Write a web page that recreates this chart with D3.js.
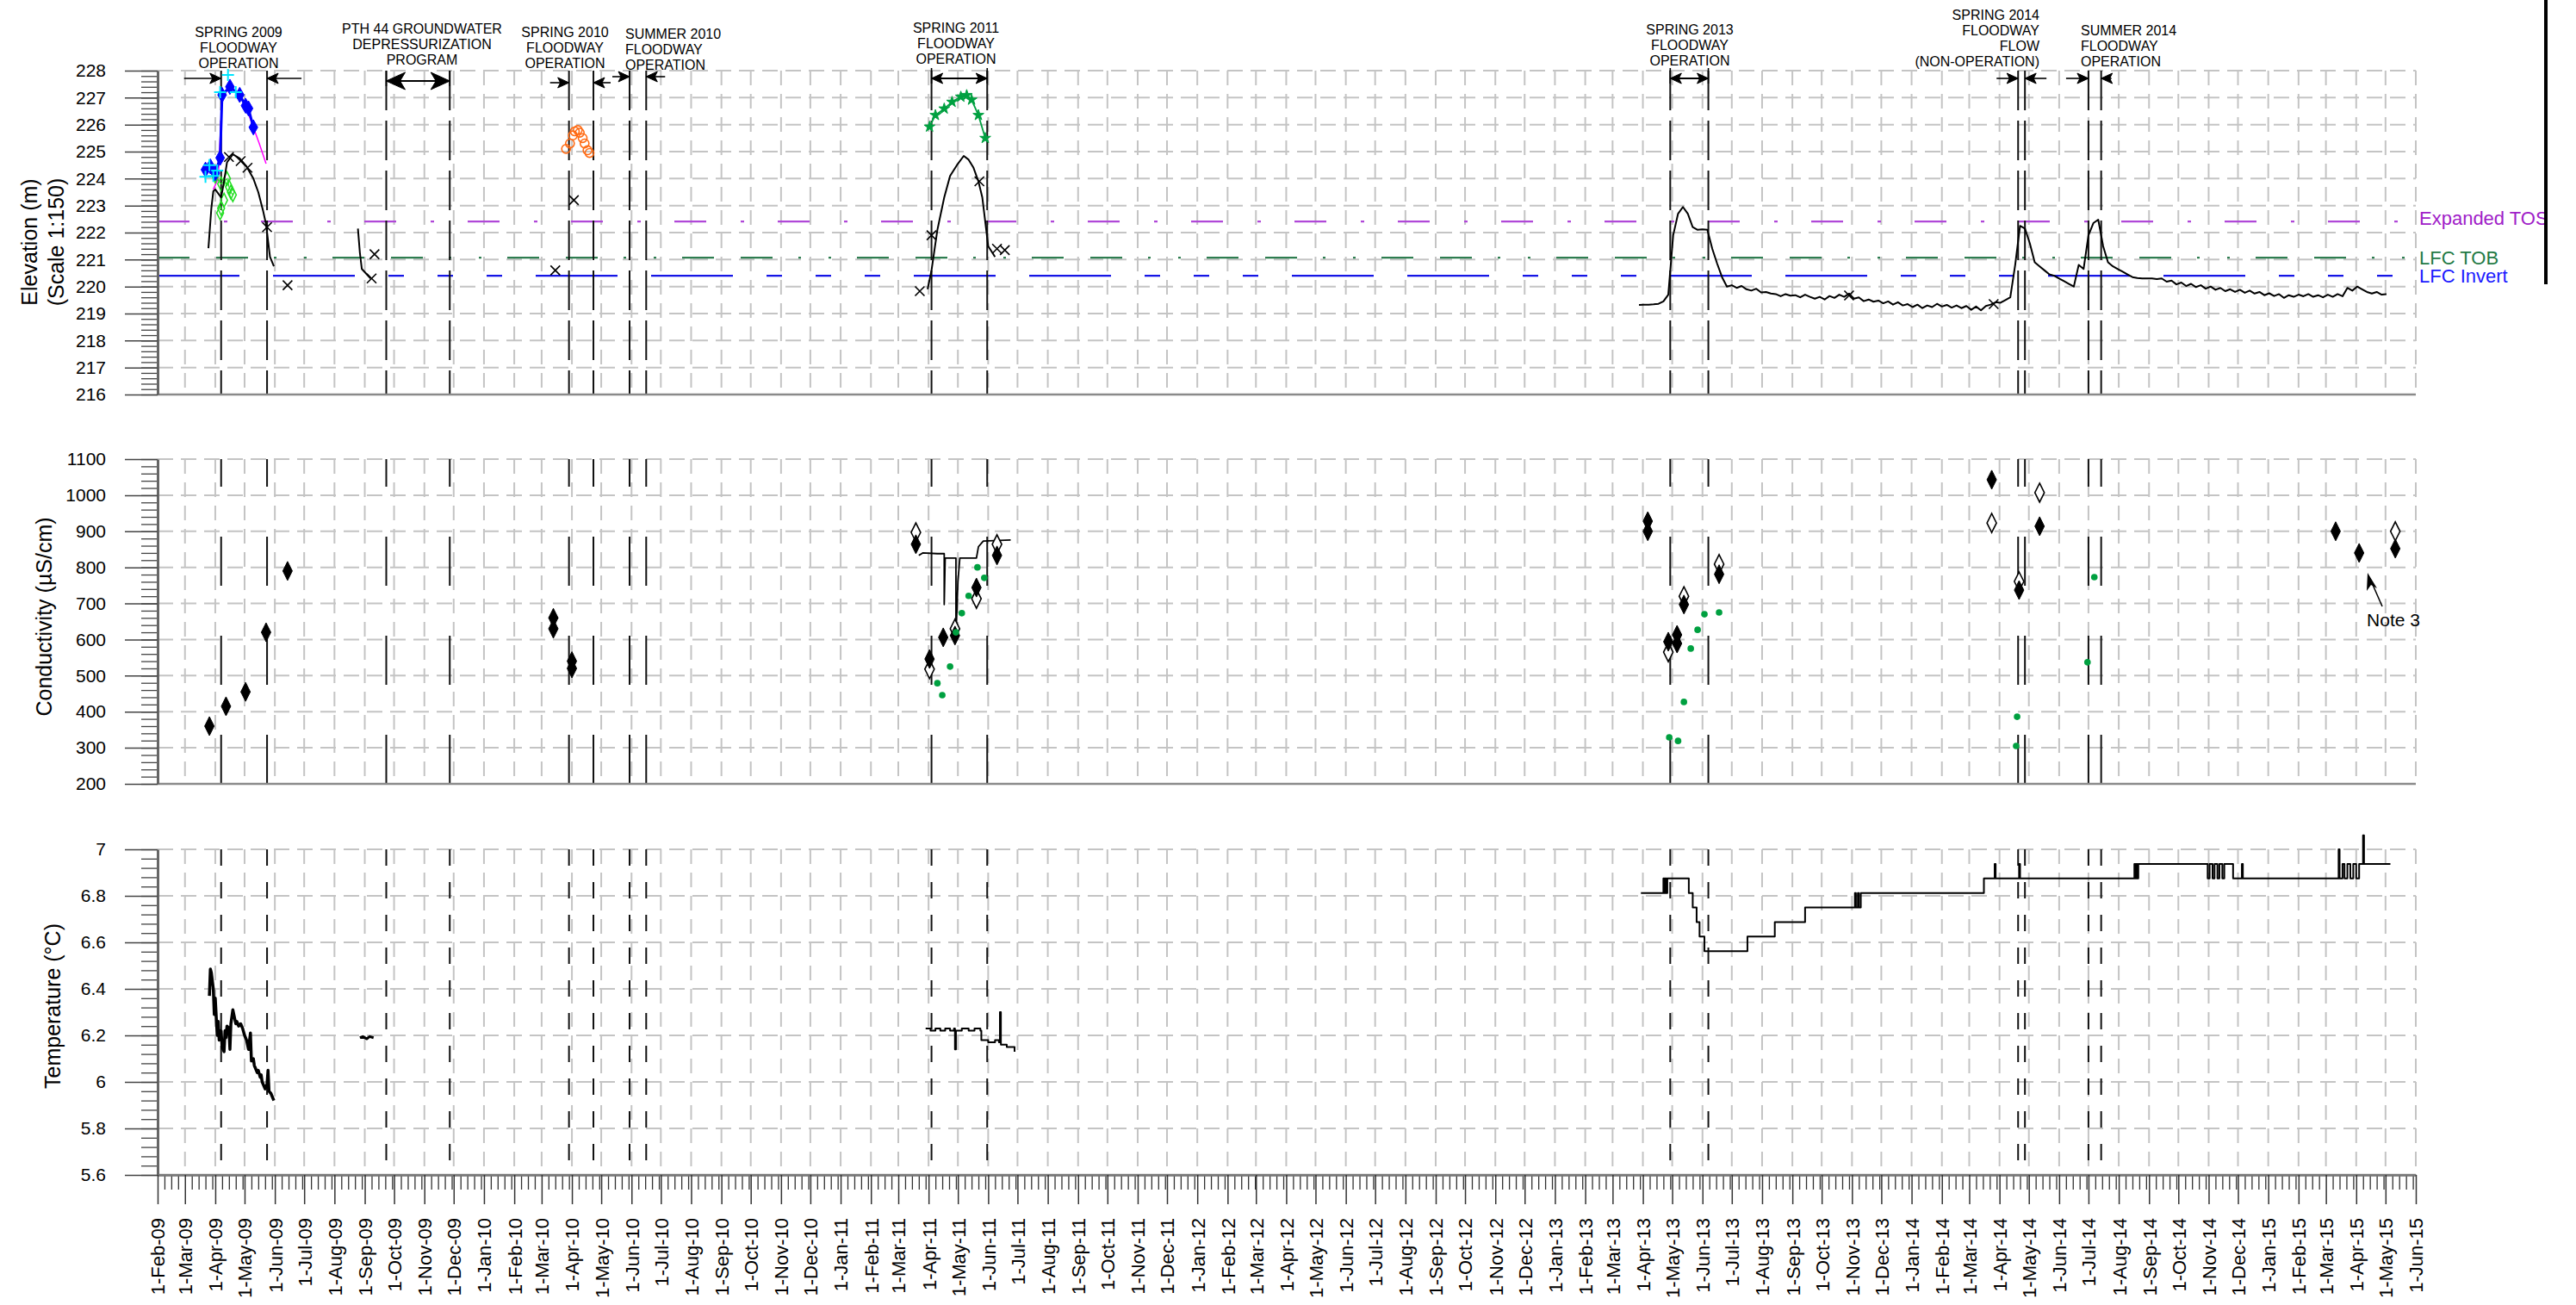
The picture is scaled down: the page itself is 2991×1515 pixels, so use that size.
<!DOCTYPE html>
<html>
<head>
<meta charset="utf-8">
<script src="https://cdn.jsdelivr.net/npm/d3@7"></script>
<style>
  body { margin: 0; background: #fff; }
  svg { display: block; font-family: Arial, "Liberation Sans", sans-serif; }
</style>
</head>
<body>
<div id="chart"></div>
<script>
// ---------- tick labels ----------
var elevTicks = [216, 217, 218, 219, 220, 221, 222, 223, 224, 225, 226, 227, 228];
var condTicks = [200, 300, 400, 500, 600, 700, 800, 900, 1000, 1100];
var tempTicks = [5.6, 5.8, 6, 6.2, 6.4, 6.6, 6.8, 7];

// ---------- reference levels (m) ----------
var refNames = ["Expanded TOS", "LFC TOB", "LFC Invert"];
var refValues = [222.41, 221.07, 220.40];

// ---------- floodway event lines ----------
var eventDates = ["2009-04-07", "2009-05-24", "2009-09-23", "2009-11-27", "2010-03-29", "2010-04-23",
  "2010-05-30", "2010-06-16", "2011-04-04", "2011-05-31", "2013-04-29", "2013-06-07",
  "2014-04-20", "2014-04-27", "2014-07-01", "2014-07-14"];

// ---------- elevation series ----------
var elev09 = [["2009-03-25", 221.42], ["2009-03-28", 222.9], ["2009-03-30", 223.53], ["2009-04-01", 223.6],
  ["2009-04-07", 223.3], ["2009-04-10", 223.9], ["2009-04-13", 224.6], ["2009-04-19", 224.9],
  ["2009-04-26", 224.75], ["2009-05-03", 224.45], ["2009-05-10", 224.0], ["2009-05-15", 223.5],
  ["2009-05-20", 222.8], ["2009-05-23", 222.3], ["2009-05-27", 221.1], ["2009-05-31", 220.75]];
var elevPth = [["2009-08-25", 222.15], ["2009-08-27", 221.25], ["2009-08-29", 220.65], ["2009-09-07", 220.3]];
var elev11 = [["2011-03-31", 219.9], ["2011-04-04", 220.6], ["2011-04-10", 222.1], ["2011-04-17", 223.3],
  ["2011-04-23", 224.1], ["2011-04-30", 224.5], ["2011-05-07", 224.84], ["2011-05-12", 224.7],
  ["2011-05-17", 224.4], ["2011-05-22", 223.9], ["2011-05-26", 223.3], ["2011-06-01", 221.5], ["2011-06-08", 221.1]];
var elev13Start = "2013-03-28";
var elev13Step = 5; // days between logger readings shown
var elev13 = [219.32, 219.33, 219.33, 219.34, 219.36, 219.45, 219.7, 221.9, 222.7, 222.95,
  222.7, 222.2, 222.1, 222.12, 222.1, 221.4, 220.85, 220.35, 220.0, 220.05,
  219.95, 220.02, 219.9, 219.85, 219.92, 219.78, 219.8, 219.74, 219.72, 219.64,
  219.72, 219.66, 219.68, 219.6, 219.7, 219.62, 219.55, 219.62, 219.52, 219.65,
  219.58, 219.7, 219.62, 219.74, 219.55, 219.6, 219.46, 219.52, 219.44, 219.48,
  219.38, 219.45, 219.33, 219.42, 219.3, 219.35, 219.24, 219.33, 219.2, 219.3,
  219.24, 219.36, 219.26, 219.32, 219.22, 219.3, 219.2, 219.28, 219.14, 219.26,
  219.12, 219.28, 219.33, 219.42, 219.4, 219.5, 219.6, 220.8, 222.25, 222.15,
  221.6, 220.9, 220.75, 220.6, 220.45, 220.4, 220.3, 220.2, 220.1, 220.0,
  220.8, 220.65, 221.9, 222.35, 222.48, 221.5, 220.9, 220.75, 220.65, 220.55,
  220.45, 220.35, 220.32, 220.3, 220.3, 220.3, 220.28, 220.3, 220.18, 220.22,
  220.08, 220.15, 220.02, 220.1, 219.98, 220.05, 219.92, 220.0, 219.88, 219.95,
  219.83, 219.9, 219.8, 219.88, 219.77, 219.85, 219.74, 219.8, 219.68, 219.75,
  219.65, 219.72, 219.58, 219.68, 219.62, 219.7, 219.64, 219.72, 219.62, 219.68,
  219.6, 219.7, 219.62, 219.72, 219.64, 219.95, 219.85, 220.0, 219.9, 219.8,
  219.74, 219.8, 219.7, 219.72];
var manualX = [["2009-04-15", 224.8], ["2009-04-27", 224.65], ["2009-05-04", 224.4], ["2009-05-24", 222.2],
  ["2009-06-14", 220.05], ["2009-09-11", 221.2], ["2009-09-08", 220.3], ["2010-03-15", 220.6],
  ["2010-04-03", 223.2], ["2011-03-23", 219.83], ["2011-04-04", 221.9], ["2011-05-23", 223.9],
  ["2011-06-10", 221.4], ["2011-06-18", 221.35], ["2013-10-29", 219.67], ["2014-03-26", 219.35]];
var pz09Blue = [["2009-03-22", 224.33], ["2009-03-27", 224.45], ["2009-04-01", 224.2], ["2009-04-06", 224.77],
  ["2009-04-08", 227.1], ["2009-04-16", 227.4], ["2009-04-26", 227.1], ["2009-05-02", 226.7],
  ["2009-05-05", 226.6], ["2009-05-10", 225.9]];
var pz09Magenta = [["2009-03-30", 223.6], ["2009-04-04", 224.0], ["2009-04-08", 227.0], ["2009-04-16", 227.4],
  ["2009-04-26", 227.1], ["2009-05-02", 226.7], ["2009-05-10", 225.9], ["2009-05-16", 225.3], ["2009-05-23", 224.55]];
var pz09Cyan = [["2009-03-22", 224.07], ["2009-03-26", 224.5], ["2009-03-30", 224.1], ["2009-04-06", 227.2],
  ["2009-04-14", 227.84], ["2009-04-22", 227.2], ["2009-04-03", 224.3]];
var pz09Green = [["2009-04-01", 224.1], ["2009-04-07", 223.8], ["2009-04-13", 224.0], ["2009-04-15", 223.7],
  ["2009-04-17", 223.5], ["2009-04-19", 223.4], ["2009-04-10", 223.2], ["2009-04-07", 222.9], ["2009-04-06", 222.73]];
var pz10Orange = [["2010-03-26", 225.1], ["2010-03-30", 225.3], ["2010-04-02", 225.6], ["2010-04-04", 225.75],
  ["2010-04-07", 225.8], ["2010-04-09", 225.7], ["2010-04-12", 225.5], ["2010-04-14", 225.3],
  ["2010-04-17", 225.05], ["2010-04-19", 224.95]];
var pz11Green = [["2011-04-02", 225.92], ["2011-04-08", 226.35], ["2011-04-17", 226.59], ["2011-04-25", 226.84],
  ["2011-05-04", 227.03], ["2011-05-10", 227.09], ["2011-05-15", 226.92], ["2011-05-22", 226.35], ["2011-05-29", 225.5]];

// ---------- conductivity ----------
var condFilled = [["2009-03-26", 360], ["2009-04-12", 415], ["2009-05-02", 455], ["2009-05-23", 620], ["2009-06-14", 790],
  ["2010-03-13", 660], ["2010-03-13", 630], ["2010-04-01", 540], ["2010-04-01", 520],
  ["2011-03-19", 864], ["2011-04-02", 546], ["2011-04-16", 606], ["2011-04-28", 611], ["2011-05-20", 744], ["2011-06-10", 833],
  ["2013-04-06", 928], ["2013-04-06", 900], ["2013-04-27", 594], ["2013-05-06", 613], ["2013-05-06", 589],
  ["2013-05-13", 697], ["2013-06-18", 781],
  ["2014-03-24", 1043], ["2014-05-12", 914], ["2014-04-21", 737],
  ["2015-03-11", 900], ["2015-04-04", 840], ["2015-05-11", 852]];
var condHollow = [["2011-03-19", 897], ["2011-04-02", 518], ["2011-04-28", 630], ["2011-05-20", 713], ["2011-06-10", 864],
  ["2013-04-27", 565], ["2013-05-13", 720], ["2013-06-18", 809],
  ["2014-03-24", 923], ["2014-05-12", 1007], ["2014-04-21", 761], ["2015-05-11", 900]];
var condGreen = [["2011-05-21", 800], ["2011-05-28", 771], ["2011-05-12", 721], ["2011-05-05", 673], ["2011-04-29", 620],
  ["2011-04-23", 525], ["2011-04-10", 479], ["2011-04-15", 446],
  ["2013-04-28", 329], ["2013-05-07", 319], ["2013-05-13", 427], ["2013-05-20", 575], ["2013-05-27", 627],
  ["2013-06-03", 670], ["2013-06-18", 675],
  ["2014-07-07", 773], ["2014-06-30", 537], ["2014-04-19", 386], ["2014-04-18", 305]];
var condLogger = [["2011-03-22", 833], ["2011-03-26", 840], ["2011-04-10", 838], ["2011-04-17", 838], ["2011-04-17", 697],
  ["2011-04-18", 826], ["2011-04-29", 826], ["2011-04-29", 606], ["2011-05-01", 760], ["2011-05-03", 826],
  ["2011-05-20", 826], ["2011-05-22", 857], ["2011-05-27", 873], ["2011-06-24", 876]];

// ---------- temperature ----------
var temp09 = [["2009-03-26", 6.37], ["2009-03-27", 6.485], ["2009-03-28", 6.47], ["2009-03-30", 6.40], ["2009-03-31", 6.29],
  ["2009-04-01", 6.36], ["2009-04-02", 6.28], ["2009-04-03", 6.20], ["2009-04-04", 6.26], ["2009-04-05", 6.18], ["2009-04-07", 6.22],
  ["2009-04-08", 6.15], ["2009-04-10", 6.13], ["2009-04-11", 6.22], ["2009-04-12", 6.19], ["2009-04-13", 6.24], ["2009-04-15", 6.23],
  ["2009-04-16", 6.14], ["2009-04-17", 6.25], ["2009-04-19", 6.31], ["2009-04-21", 6.27], ["2009-04-22", 6.25], ["2009-04-23", 6.26],
  ["2009-04-25", 6.24], ["2009-04-27", 6.25], ["2009-04-29", 6.23], ["2009-05-01", 6.20], ["2009-05-03", 6.18], ["2009-05-05", 6.14],
  ["2009-05-07", 6.21], ["2009-05-08", 6.09], ["2009-05-10", 6.10], ["2009-05-11", 6.07], ["2009-05-12", 6.06], ["2009-05-14", 6.04],
  ["2009-05-15", 6.05], ["2009-05-17", 6.02], ["2009-05-18", 6.03], ["2009-05-19", 6.00], ["2009-05-21", 5.98], ["2009-05-22", 5.97],
  ["2009-05-24", 5.99], ["2009-05-25", 6.05], ["2009-05-26", 5.96], ["2009-05-28", 5.95], ["2009-05-29", 5.94], ["2009-05-31", 5.92]];
var tempPth = [["2009-08-27", 6.19], ["2009-08-30", 6.195], ["2009-09-03", 6.185], ["2009-09-06", 6.195], ["2009-09-10", 6.19]];
var temp11 = [["2011-03-29", 6.23], ["2011-04-03", 6.22], ["2011-04-08", 6.23], ["2011-04-13", 6.22], ["2011-04-18", 6.23],
  ["2011-04-23", 6.22], ["2011-04-27", 6.23], ["2011-04-28", 6.14], ["2011-04-29", 6.22], ["2011-05-05", 6.23],
  ["2011-05-12", 6.22], ["2011-05-18", 6.23], ["2011-05-24", 6.22], ["2011-05-25", 6.18], ["2011-06-01", 6.17],
  ["2011-06-08", 6.18], ["2011-06-12", 6.17], ["2011-06-13", 6.30], ["2011-06-14", 6.16], ["2011-06-20", 6.15],
  ["2011-06-28", 6.13]];
var temp13 = [["2013-03-30", 6.8125],
  ["2013-04-22", 6.875], ["2013-04-23", 6.8125], ["2013-04-24", 6.875], ["2013-04-25", 6.8125], ["2013-04-26", 6.875],
  ["2013-05-18", 6.8125], ["2013-05-22", 6.75], ["2013-05-26", 6.6875], ["2013-05-29", 6.625], ["2013-06-03", 6.5625],
  ["2013-07-17", 6.625], ["2013-08-14", 6.6875], ["2013-09-14", 6.75],
  ["2013-11-04", 6.8125], ["2013-11-05", 6.75], ["2013-11-07", 6.8125], ["2013-11-08", 6.75], ["2013-11-10", 6.8125],
  ["2014-03-16", 6.875], ["2014-03-27", 6.9375], ["2014-03-28", 6.875], ["2014-04-21", 6.9375], ["2014-04-22", 6.875],
  ["2014-08-17", 6.9375], ["2014-08-18", 6.875], ["2014-08-19", 6.9375], ["2014-08-20", 6.875], ["2014-08-21", 6.9375],
  ["2014-10-31", 6.875], ["2014-11-02", 6.9375], ["2014-11-05", 6.875], ["2014-11-07", 6.9375], ["2014-11-10", 6.875],
  ["2014-11-12", 6.9375], ["2014-11-15", 6.875], ["2014-11-17", 6.9375], ["2014-11-26", 6.875],
  ["2014-12-05", 6.9375], ["2014-12-06", 6.875],
  ["2015-03-14", 7.0], ["2015-03-15", 6.875], ["2015-03-18", 6.9375], ["2015-03-20", 6.875], ["2015-03-23", 6.9375],
  ["2015-03-26", 6.875], ["2015-03-29", 6.9375], ["2015-04-01", 6.875], ["2015-04-04", 6.9375],
  ["2015-04-08", 7.06], ["2015-04-09", 6.9375], ["2015-05-06", 6.9375]];

// ---------- annotations ----------
var annoLines = [
  ["SPRING 2009", "FLOODWAY", "OPERATION"],
  ["PTH 44 GROUNDWATER", "DEPRESSURIZATION", "PROGRAM"],
  ["SPRING 2010", "FLOODWAY", "OPERATION"],
  ["SUMMER 2010", "FLOODWAY", "OPERATION"],
  ["SPRING 2011", "FLOODWAY", "OPERATION"],
  ["SPRING 2013", "FLOODWAY", "OPERATION"],
  ["SPRING 2014", "FLOODWAY", "FLOW", "(NON-OPERATION)"],
  ["SUMMER 2014", "FLOODWAY", "OPERATION"]
];

// ================= drawing =================
var W = 2991, H = 1515;
var parse = d3.timeParse("%Y-%m-%d");
var svg = d3.select("#chart").append("svg").attr("width", W).attr("height", H);

var x = d3.scaleTime()
  .domain([parse("2009-02-01"), parse("2015-06-01")])
  .range([183, 2805]);
var xL = x.range()[0], xR = x.range()[1];

var yElev = d3.scaleLinear().domain([216, 228]).range([458, 82]);
var yCond = d3.scaleLinear().domain([200, 1100]).range([910, 533]);
var yTemp = d3.scaleLinear().domain([5.6, 7]).range([1364, 986]);

var months = d3.timeMonth.range(x.domain()[0], d3.timeDay.offset(x.domain()[1], 1));

var gGrid = svg.append("g");
var gRef = svg.append("g");
var gEvent = svg.append("g");
var gData = svg.append("g");
var gAxis = svg.append("g");
var gAnno = svg.append("g");

function panel(y, ticks, minorStep, eventDash, eventOffset) {
  var top = y.range()[1], bot = y.range()[0];
  // horizontal grid
  gGrid.selectAll(null).data(ticks.slice(1)).enter().append("line")
    .attr("x1", xL).attr("x2", xR)
    .attr("y1", function (d) { return y(d); }).attr("y2", function (d) { return y(d); })
    .attr("stroke", "#c4c4c4").attr("stroke-width", 2).attr("stroke-dasharray", "18,9");
  // vertical grid
  gGrid.selectAll(null).data(months.slice(1)).enter().append("line")
    .attr("x1", function (d) { return x(d); }).attr("x2", function (d) { return x(d); })
    .attr("y1", top).attr("y2", bot)
    .attr("stroke", "#c4c4c4").attr("stroke-width", 2).attr("stroke-dasharray", "17,10");
  // bottom border
  gAxis.append("line").attr("x1", xL).attr("x2", xR).attr("y1", bot).attr("y2", bot)
    .attr("stroke", "#8a8a8a").attr("stroke-width", 2.5);
  // event lines
  gEvent.selectAll(null).data(eventDates).enter().append("line")
    .attr("x1", function (d) { return x(parse(d)); }).attr("x2", function (d) { return x(parse(d)); })
    .attr("y1", top).attr("y2", bot)
    .attr("stroke", "#111").attr("stroke-width", 2)
    .attr("stroke-dasharray", eventDash).attr("stroke-dashoffset", eventOffset);
  // minor ticks
  var d0 = y.domain()[0], d1 = y.domain()[1];
  var minor = d3.range(Math.round((d1 - d0) / minorStep) + 1).map(function (i) { return d0 + i * minorStep; });
  gAxis.append("g").attr("transform", "translate(" + xL + ",0)")
    .call(d3.axisLeft(y).tickValues(minor).tickSize(19).tickSizeOuter(0).tickFormat(""))
    .call(function (g) { g.select(".domain").remove(); })
    .selectAll("line").attr("stroke", "#444").attr("stroke-width", 1.3);
  // major ticks + labels
  var ax = gAxis.append("g").attr("transform", "translate(" + xL + ",0)")
    .call(d3.axisLeft(y).tickValues(ticks).tickSize(38).tickSizeOuter(0).tickPadding(22).tickFormat(function (d) { return String(d); }));
  ax.select(".domain").attr("stroke", "#666").attr("stroke-width", 3);
  ax.selectAll(".tick line").attr("stroke", "#444").attr("stroke-width", 1.5);
  ax.selectAll(".tick text").attr("font-size", 21).attr("font-family", "Arial, 'Liberation Sans', sans-serif").attr("fill", "#000");
}

panel(yElev, elevTicks, 0.2, "46,12", 0);
panel(yCond, condTicks, 20, "57,58", 25);
panel(yTemp, tempTicks, 0.04, "19,19", 0);

// ---- x axis ----
var weekTicks = d3.timeDay.range(x.domain()[0], x.domain()[1]).filter(function (d) {
  var dd = d.getDate(); return dd === 8 || dd === 15 || dd === 22 || dd === 29;
});
gAxis.append("g").attr("transform", "translate(0," + yTemp.range()[0] + ")")
  .call(d3.axisBottom(x).tickValues(weekTicks).tickSize(17).tickSizeOuter(0).tickFormat(""))
  .call(function (g) { g.select(".domain").remove(); })
  .selectAll("line").attr("stroke", "#333").attr("stroke-width", 1.3);
var xa = gAxis.append("g").attr("transform", "translate(0," + yTemp.range()[0] + ")")
  .call(d3.axisBottom(x).tickValues(months).tickSize(34).tickSizeOuter(0).tickFormat(d3.timeFormat("1-%b-%y")));
xa.select(".domain").attr("stroke", "#777").attr("stroke-width", 2.5);
xa.selectAll(".tick line").attr("stroke", "#333").attr("stroke-width", 1.5);
xa.selectAll(".tick text")
  .attr("transform", "rotate(-90)")
  .attr("x", -50).attr("y", 0).attr("dy", "0.36em")
  .attr("text-anchor", "end")
  .attr("font-size", 22).attr("font-family", "Arial, 'Liberation Sans', sans-serif").attr("fill", "#000");

// ---- axis titles ----
function vtitle(txt, cx, cy) {
  gAxis.append("text").attr("transform", "translate(" + cx + "," + cy + ") rotate(-90)")
    .attr("text-anchor", "middle").attr("dy", "0.35em").attr("font-size", 25).text(txt);
}
vtitle("Elevation (m)", 34, 281);
vtitle("(Scale 1:150)", 65, 281);
vtitle("Conductivity (\u00b5S/cm)", 51, 716);
vtitle("Temperature (\u00b0C)", 61, 1168);

// ---- reference lines ----
var refStroke = ["#b048d8", "#2e7d50", "#1515e6"];
var refText = ["#a020c8", "#1f7a45", "#1a1aff"];
var refDash = ["37,40,4,39", "37,31,37,30,3,32,3,30", "95,39,95,39,18,39,18,39,18,39"];
refValues.forEach(function (v, i) {
  gRef.append("line").attr("x1", xL).attr("x2", xR).attr("y1", yElev(v)).attr("y2", yElev(v))
    .attr("stroke", refStroke[i]).attr("stroke-width", 2.2).attr("stroke-dasharray", refDash[i]);
});
gAnno.selectAll(null).data(refNames).enter().append("text")
  .attr("x", xR + 4)
  .attr("y", function (d, i) { return yElev(refValues[i]) + [-4, 0, 0][i]; })
  .attr("dy", "0.36em").attr("font-size", 22)
  .attr("fill", function (d, i) { return refText[i]; })
  .text(function (d) { return d; });

// ---- helpers ----
function pts(arr) { return arr.map(function (d) { return {date: parse(d[0]), v: d[1]}; }); }
function drawLine(arr, y, color, w, curve) {
  gData.append("path").datum(pts(arr))
    .attr("fill", "none").attr("stroke", color).attr("stroke-width", w).attr("stroke-linejoin", "round")
    .attr("d", d3.line().x(function (d) { return x(d.date); }).y(function (d) { return y(d.v); }).curve(curve || d3.curveLinear));
}
function drawSymbols(arr, y, sym, size, fill, stroke, sw) {
  gData.selectAll(null).data(pts(arr)).enter().append("path")
    .attr("transform", function (d) { return "translate(" + x(d.date) + "," + y(d.v) + ")"; })
    .attr("d", d3.symbol().type(sym).size(size))
    .attr("fill", fill).attr("stroke", stroke).attr("stroke-width", sw);
}
var tallDiamond = { draw: function (ctx, size) {
  var h = Math.sqrt(size) * 1.0, w = h * 0.5;
  ctx.moveTo(0, -h); ctx.lineTo(w, 0); ctx.lineTo(0, h); ctx.lineTo(-w, 0); ctx.closePath();
} };
var cross = { draw: function (ctx, size) {
  var r = Math.sqrt(size) / 2;
  ctx.moveTo(-r, -r); ctx.lineTo(r, r); ctx.moveTo(r, -r); ctx.lineTo(-r, r);
} };
var plus = { draw: function (ctx, size) {
  var r = Math.sqrt(size) / 2;
  ctx.moveTo(-r, 0); ctx.lineTo(r, 0); ctx.moveTo(0, -r); ctx.lineTo(0, r);
} };

// ---- elevation data ----
drawLine(pz09Magenta, yElev, "#ff00ff", 1.5);
drawLine(pz09Green.slice(0, 6), yElev, "#22dd22", 1.2);
drawSymbols(pz09Green, yElev, tallDiamond, 64, "none", "#22dd22", 1.5);
drawLine(pz09Blue, yElev, "#0000ff", 3);
drawSymbols(pz09Blue, yElev, d3.symbolDiamond, 90, "#0000ff", "#0000ff", 1);
drawSymbols(pz09Cyan, yElev, plus, 196, "none", "#00e5ff", 2);
drawLine(elev09, yElev, "#000", 2);
drawLine(elevPth, yElev, "#000", 2);
drawSymbols(pz10Orange, yElev, d3.symbolCircle, 80, "none", "#ff6a13", 1.6);
drawLine(pz11Green, yElev, "#00a040", 1.8);
drawSymbols(pz11Green, yElev, d3.symbolStar, 50, "#00a040", "#00a040", 1);
drawLine(elev11, yElev, "#000", 2);
var e13 = elev13.map(function (v, i) {
  return [d3.timeFormat("%Y-%m-%d")(d3.timeDay.offset(parse(elev13Start), i * elev13Step)), v];
});
drawLine(e13, yElev, "#000", 2);
drawSymbols(manualX, yElev, cross, 121, "none", "#000", 1.6);

// ---- conductivity data ----
drawLine(condLogger, yCond, "#000", 1.8);
drawSymbols(condHollow, yCond, tallDiamond, 121, "#fff", "#000", 1.6);
drawSymbols(condFilled, yCond, tallDiamond, 121, "#000", "#000", 1);
drawSymbols(condGreen, yCond, d3.symbolCircle, 46, "#00a040", "none", 0);

// ---- temperature data ----
drawLine(temp09, yTemp, "#000", 3.5);
drawLine(tempPth, yTemp, "#000", 3);
drawLine(temp11, yTemp, "#000", 2, d3.curveStepAfter);
drawLine(temp13, yTemp, "#000", 2, d3.curveStepAfter);

// ---- annotations ----
var annoPos = [
  {cx: 277, y: 43, anchor: "middle"}, {cx: 490, y: 39, anchor: "middle"}, {cx: 656, y: 43, anchor: "middle"},
  {cx: 726, y: 45, anchor: "start"}, {cx: 1110, y: 38, anchor: "middle"}, {cx: 1962, y: 40, anchor: "middle"},
  {cx: 2368, y: 23, anchor: "end"}, {cx: 2416, y: 41, anchor: "start"}
];
annoLines.forEach(function (lines, i) {
  var p = annoPos[i];
  var t = gAnno.append("text").attr("font-size", 16).attr("text-anchor", p.anchor);
  lines.forEach(function (s, j) {
    t.append("tspan").attr("x", p.cx).attr("y", p.y + j * 18).text(s);
  });
});

function head(xTip, yy, dir, big) {
  var L = big ? 22 : 13, Hh = big ? 10 : 6, N = big ? 16 : 10;
  gAnno.append("path")
    .attr("d", "M" + xTip + "," + yy + " L" + (xTip - dir * L) + "," + (yy - Hh) + " L" + (xTip - dir * N) + "," + yy +
      " L" + (xTip - dir * L) + "," + (yy + Hh) + " Z")
    .attr("fill", "#000").attr("stroke", "#000").attr("stroke-width", 1);
}
function arrowIn(d, len, yy, dir) {
  var xt = x(parse(d));
  gAnno.append("line").attr("x1", xt - dir * len).attr("x2", xt).attr("y1", yy).attr("y2", yy)
    .attr("stroke", "#000").attr("stroke-width", 1.6);
  head(xt, yy, dir, false);
}
function arrowBoth(d1, d2, yy, big) {
  var a = x(parse(d1)), b = x(parse(d2));
  gAnno.append("line").attr("x1", a).attr("x2", b).attr("y1", yy).attr("y2", yy)
    .attr("stroke", "#000").attr("stroke-width", big ? 2.2 : 1.8);
  head(a, yy, -1, big); head(b, yy, 1, big);
  [a, b].forEach(function (xx) {
    gAnno.append("line").attr("x1", xx).attr("x2", xx).attr("y1", yy - 12).attr("y2", yy + 6)
      .attr("stroke", "#000").attr("stroke-width", 1.6);
  });
}
arrowIn(eventDates[0], 43, 91, 1); arrowIn(eventDates[1], 40, 91, -1);
arrowBoth(eventDates[2], eventDates[3], 94, true);
arrowIn(eventDates[4], 22, 96, 1); arrowIn(eventDates[5], 20, 96, -1);
arrowIn(eventDates[6], 20, 89, 1); arrowIn(eventDates[7], 22, 89, -1);
arrowBoth(eventDates[8], eventDates[9], 91, false);
arrowBoth(eventDates[10], eventDates[11], 91, false);
arrowIn(eventDates[12], 25, 91, 1); arrowIn(eventDates[13], 25, 91, -1);
arrowIn(eventDates[14], 26, 91, 1); arrowIn(eventDates[15], 12, 91, -1);

// Note 3
gAnno.append("text").attr("x", 2779).attr("y", 719).attr("dy", "0.36em").attr("text-anchor", "middle")
  .attr("font-size", 21).text("Note 3");
gAnno.append("line").attr("x1", 2766).attr("y1", 704).attr("x2", 2752).attr("y2", 672)
  .attr("stroke", "#000").attr("stroke-width", 1.6);
gAnno.append("path").attr("d", "M2749,665 L2748,686 L2753,679 L2760,683 Z").attr("fill", "#000");

// right frame line
gAnno.append("line").attr("x1", 2956).attr("x2", 2956).attr("y1", 0).attr("y2", 330)
  .attr("stroke", "#000").attr("stroke-width", 4);
</script>
</body>
</html>
